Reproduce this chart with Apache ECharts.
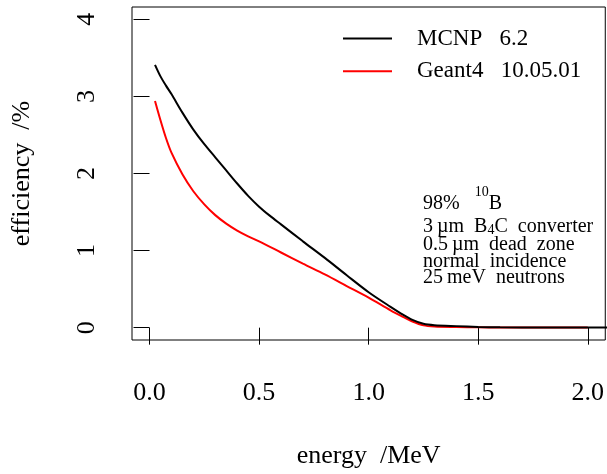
<!DOCTYPE html>
<html>
<head>
<meta charset="utf-8">
<script src="https://cdn.jsdelivr.net/npm/echarts@6/dist/echarts.min.js"></script>
<style>html,body{margin:0;padding:0;background:#fff;}#c{width:607px;height:474px;}</style>
</head>
<body>
<div id="c"></div>
<script>
const energyMCNP = [0.025, 0.05, 0.075, 0.1, 0.15, 0.2, 0.25, 0.3, 0.35, 0.4, 0.45, 0.5, 0.55, 0.6, 0.7, 0.8, 0.9, 1.0, 1.1, 1.15, 1.2, 1.25, 1.3, 1.4, 1.5, 1.6, 1.8, 2.0, 2.1];
const effMCNP    = [3.41, 3.26, 3.14, 3.03, 2.79, 2.57, 2.38, 2.21, 2.04, 1.87, 1.71, 1.57, 1.45, 1.34, 1.12, 0.905, 0.68, 0.46, 0.27, 0.18, 0.10, 0.05, 0.032, 0.02, 0.01, 0.005, 0.003, 0.002, 0.002];
const energyG4   = [0.025, 0.05, 0.075, 0.1, 0.15, 0.2, 0.25, 0.3, 0.35, 0.4, 0.45, 0.5, 0.6, 0.7, 0.8, 0.9, 1.0, 1.1, 1.15, 1.2, 1.25, 1.3, 1.4, 1.5, 1.6, 1.8, 2.0];
const effG4      = [2.94, 2.69, 2.46, 2.27, 1.99, 1.77, 1.60, 1.46, 1.35, 1.26, 1.185, 1.12, 0.975, 0.83, 0.69, 0.54, 0.39, 0.225, 0.15, 0.08, 0.03, 0.015, 0.008, 0.004, 0.002, 0.001, 0.001];
const xTicks = [0, 0.5, 1.0, 1.5, 2.0];
const yTicks = [0, 1, 2, 3, 4];
const seriesNames = ['MCNP 6.2', 'Geant4 10.05.01'];
const noteLines = [
  '{ab|98%\u2002 }{sup|10}{ab|B}',
  '{at|3\u2009µm\u2002B}{sub|4}{at|C\u2002converter}',
  '{a|0.5\u2009µm\u2002dead\u2002zone}',
  '{a|normal\u2002incidence}',
  '{a|25\u2009meV\u2002neutrons}'
];

const FONT = '"Liberation Serif", "Times New Roman", serif';
const chart = echarts.init(document.getElementById('c'), null, {renderer: 'canvas'});
const pairs = (xs, ys) => xs.map((x, i) => [x, ys[i]]);
const noteCenter = [205, 226, 243, 259.5, 276];
const noteOffset = [20, 13, 8, 8, 8];

chart.setOption({
  animation: false,
  backgroundColor: '#fff',
  grid: {left: 132, top: 7, width: 474, height: 338, show: true, borderColor: '#000', borderWidth: 1, backgroundColor: 'transparent'},
  xAxis: {
    type: 'value', min: -0.08, max: 2.08,
    axisLine: {show: false},
    splitLine: {show: false},
    axisTick: {show: true, customValues: xTicks, length: 17, lineStyle: {color: '#000', width: 1}},
    axisLabel: {customValues: xTicks, formatter: v => v.toFixed(1), fontFamily: FONT, fontSize: 26, color: '#000', margin: 40},
    name: 'energy\u2002/MeV', nameLocation: 'middle', nameGap: 103,
    nameTextStyle: {fontFamily: FONT, fontSize: 26, color: '#000'}
  },
  yAxis: {
    type: 'value', min: -0.16, max: 4.16,
    axisLine: {show: false},
    splitLine: {show: false},
    axisTick: {show: true, customValues: yTicks, length: 16, lineStyle: {color: '#000', width: 1}},
    axisLabel: {customValues: yTicks, formatter: v => String(v), rotate: 90, fontFamily: FONT, fontSize: 26, color: '#000', margin: 32},
    name: 'efficiency\u2002/%', nameLocation: 'middle', nameGap: 97,
    nameTextStyle: {fontFamily: FONT, fontSize: 26, color: '#000'}
  },
  legend: {
    orient: 'vertical', left: 343, top: 27, padding: 0,
    itemWidth: 49, itemHeight: 2, itemGap: 9.7,
    icon: 'rect',
    formatter: n => n.replace(' ', '\u2002 '),
    textStyle: {fontFamily: FONT, fontSize: 23, color: '#000', lineHeight: 22, padding: [0, 0, 0, 20]},
    data: seriesNames
  },
  series: [
    {name: seriesNames[0], type: 'line', data: pairs(energyMCNP, effMCNP), smooth: 0.3, showSymbol: false, symbol: 'none', lineStyle: {color: '#000', width: 2}, itemStyle: {color: '#000'}, clip: true, z: 3},
    {name: seriesNames[1], type: 'line', data: pairs(energyG4, effG4), smooth: 0.3, showSymbol: false, symbol: 'none', lineStyle: {color: '#ff0000', width: 2}, itemStyle: {color: '#ff0000'}, clip: true, z: 2}
  ],
  graphic: noteLines.map((t, i) => ({
    type: 'text', left: 423, top: noteCenter[i] - noteOffset[i],
    style: {
      text: t, fontFamily: FONT, fontSize: 20, fill: '#000',
      rich: {
        a: {fontFamily: FONT, fontSize: 20, lineHeight: 20},
        ab: {fontFamily: FONT, fontSize: 20, lineHeight: 29, verticalAlign: 'bottom'},
        at: {fontFamily: FONT, fontSize: 20, lineHeight: 20, verticalAlign: 'top'},
        sup: {fontFamily: FONT, fontSize: 14, lineHeight: 13, verticalAlign: 'top'},
        sub: {fontFamily: FONT, fontSize: 14, lineHeight: 13, verticalAlign: 'bottom', padding: [10, 0, 0, 0]}
      }
    }
  }))
});
</script>
</body>
</html>
